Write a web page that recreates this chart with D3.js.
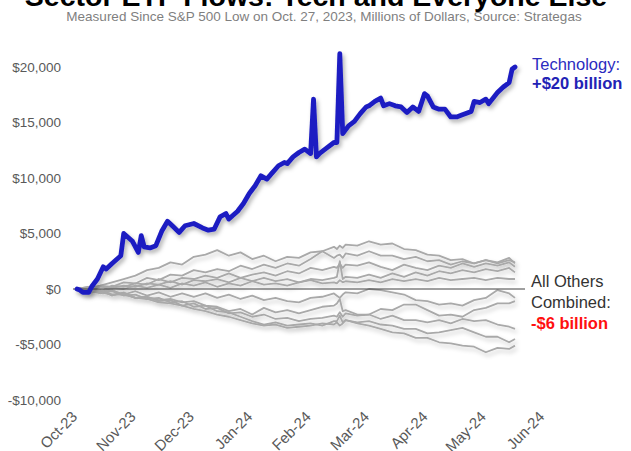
<!DOCTYPE html>
<html>
<head>
<meta charset="utf-8">
<script src="https://cdn.jsdelivr.net/npm/d3@7"></script>
<style>
  html, body { margin: 0; padding: 0; background: #fff; }
  svg { display: block; }
  text { font-family: "Liberation Sans", Arial, sans-serif; }
</style>
</head>
<body>
<svg id="chart" width="631" height="451"></svg>
<script>
// ---- data (millions of dollars, cumulative flows, trading days since Oct. 27, 2023) ----
const monthLabels = ["Oct-23", "Nov-23", "Dec-23", "Jan-24", "Feb-24", "Mar-24", "Apr-24", "May-24", "Jun-24"];
const monthTickDays = [0, 20, 40, 60, 80, 100, 120, 140, 160];
const yTickValues = [-10000, -5000, 0, 5000, 10000, 15000, 20000];

// Technology sector ETF flows
const techDays = [0, 1, 2, 4, 5, 7, 9, 10, 12, 15, 16, 19, 21, 22, 23, 25, 27, 29, 31, 33, 35, 37, 40, 43, 45, 47, 49, 51, 52, 55, 57, 59, 61, 63, 65, 67, 69, 71, 72, 74, 76, 78, 80, 81, 82, 83, 85, 88, 89, 90, 91, 93, 95, 97, 99, 100, 102, 104, 105, 107, 109, 111, 113, 115, 117, 119, 120, 122, 124, 126, 128, 130, 132, 135, 136, 138, 140, 141, 144, 146, 148, 149, 150];
const techFlows = [0, -100, -300, -300, 200, 900, 2000, 1800, 2300, 3000, 5000, 4300, 3300, 4800, 3800, 3700, 3900, 5200, 6100, 5600, 5100, 5700, 5900, 5500, 5300, 5400, 6500, 6800, 6300, 7000, 7700, 8600, 9300, 10200, 9900, 10500, 11100, 11400, 11300, 11900, 12300, 12600, 12200, 17100, 11900, 12200, 12600, 13200, 13200, 21200, 14000, 14700, 15100, 15800, 16400, 16500, 16900, 17200, 16500, 16700, 16500, 16400, 15900, 16400, 16000, 17600, 17400, 16400, 16200, 16200, 15500, 15500, 15700, 16000, 16900, 16800, 17100, 16700, 17700, 18200, 18600, 19800, 20000];

// The other ten sectors, sampled on a shared set of trading days
const sectorDays = [0, 4, 8, 12, 16, 20, 24, 28, 32, 36, 40, 44, 48, 52, 56, 60, 64, 68, 72, 76, 80, 84, 88, 89, 90, 91, 92, 96, 100, 104, 108, 112, 116, 120, 124, 128, 132, 136, 140, 144, 148, 150];
const sectorA = [0, 100, 300, 600, 900, 1200, 1700, 1900, 2400, 2200, 2900, 3100, 3500, 3000, 3300, 2700, 3000, 2500, 2900, 2800, 3300, 3400, 3800, 3600, 3900, 3700, 4000, 3900, 4300, 4000, 4100, 3600, 3500, 3100, 3000, 2600, 2700, 2300, 2600, 2300, 2600, 2400];
const sectorB = [0, -100, 300, 200, 600, 500, 1000, 800, 1300, 1200, 1700, 1500, 1800, 1600, 2100, 1800, 2200, 1900, 2300, 2100, 2700, 3400, 2800, 3000, 3100, 2800, 3200, 3000, 3400, 3000, 3000, 2700, 2900, 2500, 2600, 2200, 2500, 2300, 2600, 2400, 2800, 2300];
const sectorC = [0, 200, -200, 300, 200, 500, 400, 900, 600, 1000, 900, 1200, 1000, 1400, 1000, 1300, 1500, 1200, 1600, 1400, 1900, 1700, 2000, 1900, 2300, 1900, 2200, 2100, 2400, 2000, 1700, 2200, 1900, 1700, 2100, 1900, 2300, 2000, 2300, 2100, 2400, 2000];
const sectorD = [0, -200, 200, 100, 300, 200, 500, 400, 700, 400, 800, 700, 900, 600, 1000, 700, 1000, 700, 900, 600, 900, 800, 1000, 1100, 2500, 900, 1100, 1000, 1300, 1000, 1400, 1100, 1500, 1200, 1600, 1400, 1700, 1500, 1800, 1600, 1900, 1500];
const sectorE = [0, 200, -300, 100, 0, 300, 100, 400, 100, 500, 300, 600, 200, 500, 300, 700, 400, 500, 300, 600, 800, 500, 600, 500, 800, 600, 700, 600, 800, 600, 900, 700, 900, 700, 1000, 800, 900, 1000, 800, 1000, 900, 900];
const sectorF = [0, -200, -300, -100, -500, -200, -600, -300, -700, -400, -700, -400, -800, -500, -900, -600, -1000, -800, -1100, -1200, -800, -700, -400, -600, -800, -500, -300, -400, 0, -100, -300, -500, -1000, -1100, -1400, -1300, -1500, -1000, -800, -100, -400, -800];
const sectorG = [0, -400, -100, -600, -300, -800, -700, -1000, -900, -1200, -1100, -1500, -1600, -2000, -1800, -2300, -1700, -2100, -1900, -2200, -1900, -1600, -1500, -1300, -900, -2000, -1900, -2300, -2300, -1800, -1900, -1400, -1400, -1900, -2400, -2300, -2500, -1900, -1700, -1300, -1300, -1100];
const sectorH = [0, -300, -100, -500, -400, -800, -700, -1100, -1000, -1500, -1300, -1800, -1700, -2200, -2100, -2500, -2300, -2700, -2600, -2900, -2700, -2600, -2400, -2500, -2100, -2500, -2200, -2400, -2300, -2700, -2400, -2800, -2800, -3000, -2800, -3100, -2700, -2900, -2800, -3200, -3400, -3600];
const sectorI = [0, -100, -400, -200, -600, -500, -900, -800, -1200, -1100, -1600, -1500, -2000, -2100, -2500, -2900, -3200, -3000, -3300, -3200, -3100, -3300, -2900, -2900, -2400, -3000, -2800, -3000, -2900, -3200, -3300, -3600, -3600, -4000, -3900, -3700, -3500, -3900, -4300, -4300, -4800, -4500];
const sectorJ = [0, -300, -300, -500, -500, -800, -900, -1200, -1300, -1500, -1800, -2000, -2300, -2500, -2800, -3100, -3300, -3200, -3500, -3400, -3300, -3100, -3200, -3000, -3300, -3100, -2800, -3100, -3300, -3600, -3900, -4000, -4400, -4400, -4800, -4900, -5100, -5200, -5700, -5300, -5400, -5100];
const otherSectors = [sectorA, sectorB, sectorC, sectorD, sectorE, sectorF, sectorG, sectorH, sectorI, sectorJ];

// ---- layout ----
const svg = d3.select("#chart");
const x = d3.scaleLinear().domain([0, 150]).range([77, 515]);
const y = d3.scaleLinear().domain([-10000, 20000]).range([400, 67]);

const locale = d3.formatLocale({ decimal: ".", thousands: ",", grouping: [3], currency: ["$", ""], minus: "-" });
const money = locale.format("$,");

// soft drop shadows under the lines
const defs = svg.append("defs");
defs.append("filter").attr("id", "shadowBlue")
  .attr("x", "-10%").attr("y", "-10%").attr("width", "130%").attr("height", "130%")
  .append("feDropShadow")
  .attr("dx", 2).attr("dy", 3).attr("stdDeviation", 2)
  .attr("flood-color", "#000").attr("flood-opacity", 0.3);
defs.append("filter").attr("id", "shadowGray")
  .attr("x", "-10%").attr("y", "-20%").attr("width", "130%").attr("height", "150%")
  .append("feDropShadow")
  .attr("dx", 2).attr("dy", 3).attr("stdDeviation", 2)
  .attr("flood-color", "#000").attr("flood-opacity", 0.22);

// title (runs off the top edge) and subtitle
svg.append("text")
  .attr("x", 316).attr("y", 6)
  .attr("text-anchor", "middle")
  .attr("font-size", 28.5).attr("font-weight", "bold").attr("fill", "#000")
  .text("Sector ETF Flows: Tech and Everyone Else");
svg.append("text")
  .attr("x", 324).attr("y", 21)
  .attr("text-anchor", "middle")
  .attr("font-size", 13.5).attr("fill", "#7f7f7f")
  .text("Measured Since S&P 500 Low on Oct. 27, 2023, Millions of Dollars, Source: Strategas");

// y axis labels
const yAxis = d3.axisLeft(y).tickValues(yTickValues).tickFormat(money).tickSize(0).tickPadding(0);
const gy = svg.append("g").attr("transform", "translate(61,0)").call(yAxis);
gy.select(".domain").remove();
gy.selectAll("text").attr("font-size", 13.5).attr("fill", "#595959")
  .attr("font-family", "\"Liberation Sans\", Arial, sans-serif");

// x axis labels, rotated
const xAxis = d3.axisBottom(x).tickValues(monthTickDays)
  .tickFormat((d, i) => monthLabels[i]).tickSize(0).tickPadding(0);
const gx = svg.append("g").attr("transform", "translate(0,414)").call(xAxis);
gx.select(".domain").remove();
gx.selectAll("text")
  .attr("font-size", 15).attr("fill", "#595959")
  .attr("font-family", "\"Liberation Sans\", Arial, sans-serif")
  .attr("text-anchor", "end")
  .attr("dy", "0.35em")
  .attr("transform", "translate(-3,0) rotate(-45)");

// other sectors
const sectorLine = d3.line().x((d, i) => x(sectorDays[i])).y(d => y(d));
svg.append("g").attr("filter", "url(#shadowGray)")
  .selectAll("path").data(otherSectors).join("path")
  .attr("d", d => sectorLine(d))
  .attr("fill", "none").attr("stroke", "#a9a9a9").attr("stroke-width", 1.8)
  .attr("stroke-linejoin", "round");

// zero line
svg.append("line")
  .attr("x1", x.range()[0] - 4).attr("x2", x.range()[1] + 10)
  .attr("y1", y(0)).attr("y2", y(0))
  .attr("stroke", "#404040").attr("stroke-width", 1);

// technology
const techLine = d3.line().x((d, i) => x(techDays[i])).y(d => y(d));
svg.append("path")
  .datum(techFlows)
  .attr("d", techLine)
  .attr("fill", "none").attr("stroke", "#1d1dc2").attr("stroke-width", 4.8)
  .attr("stroke-linejoin", "round").attr("stroke-linecap", "round")
  .attr("filter", "url(#shadowBlue)");

// end labels
const lab = svg.append("g").attr("font-size", 16.5);
lab.append("text").attr("x", 532).attr("y", 70).attr("fill", "#2b2bbf").text("Technology:");
lab.append("text").attr("x", 532).attr("y", 89).attr("fill", "#2222b5").attr("font-weight", "bold").text("+$20 billion");
lab.append("text").attr("x", 531).attr("y", 287).attr("fill", "#333").text("All Others");
lab.append("text").attr("x", 531).attr("y", 308).attr("fill", "#333").text("Combined:");
lab.append("text").attr("x", 531).attr("y", 329).attr("fill", "#ff1010").attr("font-weight", "bold").text("-$6 billion");
</script>
</body>
</html>
